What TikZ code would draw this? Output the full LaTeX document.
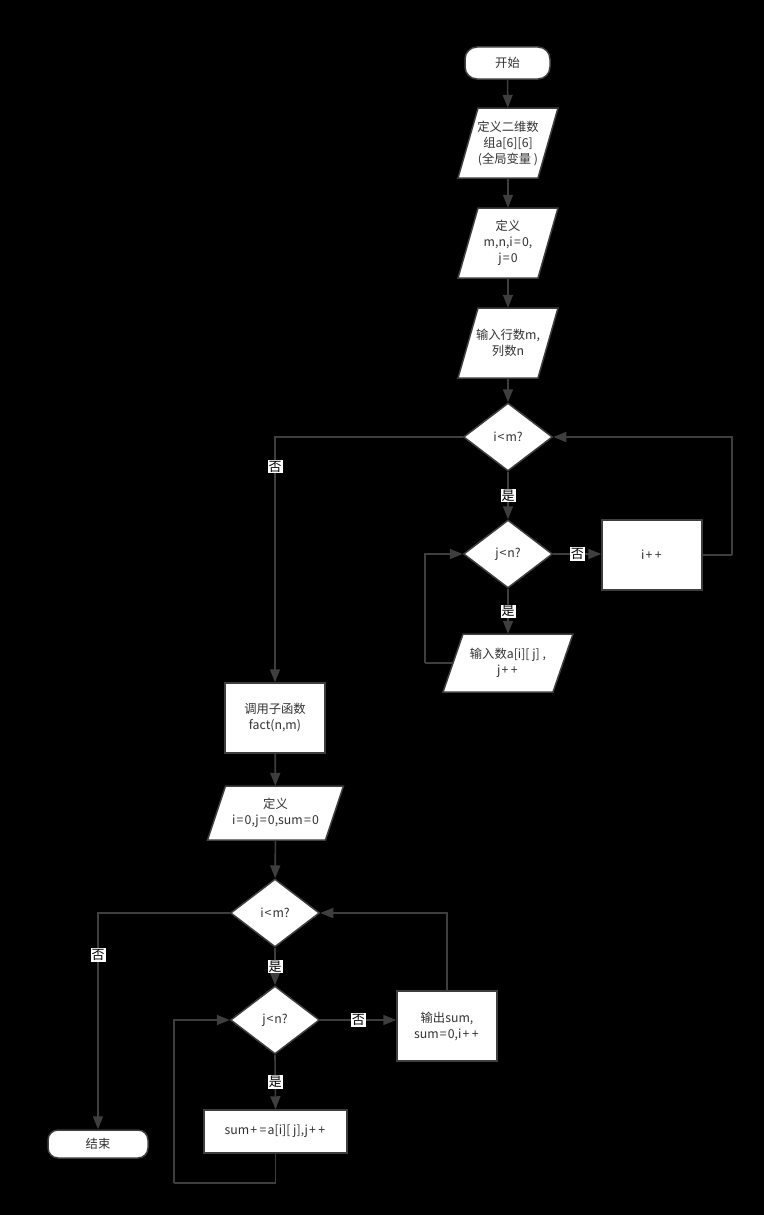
\documentclass[tikz,border=0pt]{standalone}
\usepackage{fontspec}
\setmainfont{Noto Sans CJK SC}
\usetikzlibrary{shapes.geometric,arrows.meta,calc}
\definecolor{ln}{RGB}{62,62,62}
\definecolor{tx}{RGB}{51,51,51}
\newcommand\pp{\kern1.2pt+\kern1.2pt}
\newcommand\eq{\kern1.2pt=\kern1.2pt}
\newcommand\lt{\kern1pt<\kern1pt}
\tikzset{
  every node/.style={font=\fontsize{12.3}{16}\selectfont},
  shp/.style={draw=ln,line width=1.5pt,fill=white,text=tx,align=center,inner sep=0pt},
  rectbox/.style={shp,rectangle},
  pill/.style={shp,rectangle,rounded corners=12pt},
  dec/.style={shp,diamond,aspect=1.3,minimum width=89,minimum height=68},
  pnode/.style={rectangle,text=tx,align=center,inner sep=0pt},
  conn/.style={draw=ln,line width=1.6pt,-{Triangle[length=13pt,width=10pt]}},
  plain/.style={draw=ln,line width=1.6pt},
  lab/.style={fill=white,text=black,inner sep=1pt,font=\fontsize{13}{14}\selectfont}
}
\newcommand\parabox[7]{%
  \filldraw[fill=white,draw=ln,line width=1.5pt]
    ({#2-#4/2+#6},{#3-#5/2}) -- ({#2+#4/2+#6},{#3-#5/2}) --
    ({#2+#4/2-#6},{#3+#5/2}) -- ({#2-#4/2-#6},{#3+#5/2}) -- cycle;
  \node[pnode,minimum width=#4,minimum height=#5] (#1) at (#2,#3) {#7};}
\begin{document}
\begin{tikzpicture}[x=1pt,y=-1pt]
\fill[black] (0,0) rectangle (764,1215);
\useasboundingbox (0,0) rectangle (764,1215);
% top part
\node[pill,minimum width=85,minimum height=32] (start) at (507.5,63) {开始};
\parabox{p1}{508}{143}{80}{70}{10}{定义二维数\\组a[6][6]\\(全局变量 )}
\parabox{p2}{508}{243}{80}{70}{10}{定义\\m,n,i\eq0,\\j\eq0}
\parabox{p3}{508}{343}{80}{70}{10}{输入行数m,\\列数n}
\node[dec] (d1) at (508,437) {i\lt m?};
\node[dec] (d2) at (508,554) {j\lt n?};
\node[rectbox,minimum width=100,minimum height=70] (ipp) at (652,555) {i\pp\pp};
\parabox{p4}{508}{663}{110}{58}{10}{输入数a[i][ j] ,\\j\pp\pp}
% bottom part
\node[rectbox,minimum width=100,minimum height=70] (call) at (275,718) {调用子函数\\fact(n,m)};
\parabox{p5}{275.5}{813}{118}{54}{9}{定义\\i\eq0,j\eq0,sum\eq0}
\node[dec] (d3) at (275,913) {i\lt m?};
\node[dec] (d4) at (275,1020) {j\lt n?};
\node[rectbox,minimum width=100,minimum height=70] (out) at (447,1026) {输出sum,\\sum\eq0,i\pp\pp};
\node[rectbox,minimum width=143,minimum height=43] (sum) at (275.5,1131.5) {sum\pp\eq a[i][ j],j\pp\pp};
\node[pill,minimum width=100,minimum height=28,rounded corners=10pt] (end) at (98,1144) {结束};
% loop corner coordinates
\coordinate (c1) at (425,663);
\coordinate (c2) at (732,555);
\coordinate (c3) at (174,1183);
% connectors top
\draw[conn] (start) -- (p1);
\draw[conn] (p1) -- (p2);
\draw[conn] (p2) -- (p3);
\draw[conn] (p3) -- (d1);
\draw[conn] (d1.south) -- node[lab] {是} (d2.north);
\draw[conn] (d2.east) -- node[lab] {否} (ipp.west |- d2.east);
\draw[conn] (d2.south) -- node[lab] {是} (p4.north);
\draw[plain] (p4.west) -- (c1);
\draw[conn] (c1) |- (d2.west);
\draw[plain] (ipp.east) -- (c2);
\draw[conn] (c2) |- (d1.east);
\draw[conn] (d1.west) -| node[lab,pos=0.56] {否} (call.north);
% connectors bottom
\draw[conn] (call) -- (p5);
\draw[conn] (p5) -- (d3);
\draw[conn] (d3.south) -- node[lab] {是} (d4.north);
\draw[conn] (d4.east) -- node[lab] {否} (out.west |- d4.east);
\draw[conn] (d4.south) -- node[lab] {是} (sum.north);
\draw[conn] (out.north) |- (d3.east);
\draw[plain] (sum.south) |- (c3);
\draw[conn] (c3) |- (d4.west);
\draw[conn] (d3.west) -| node[lab,pos=0.597] {否} (end.north);
\end{tikzpicture}
\end{document}
